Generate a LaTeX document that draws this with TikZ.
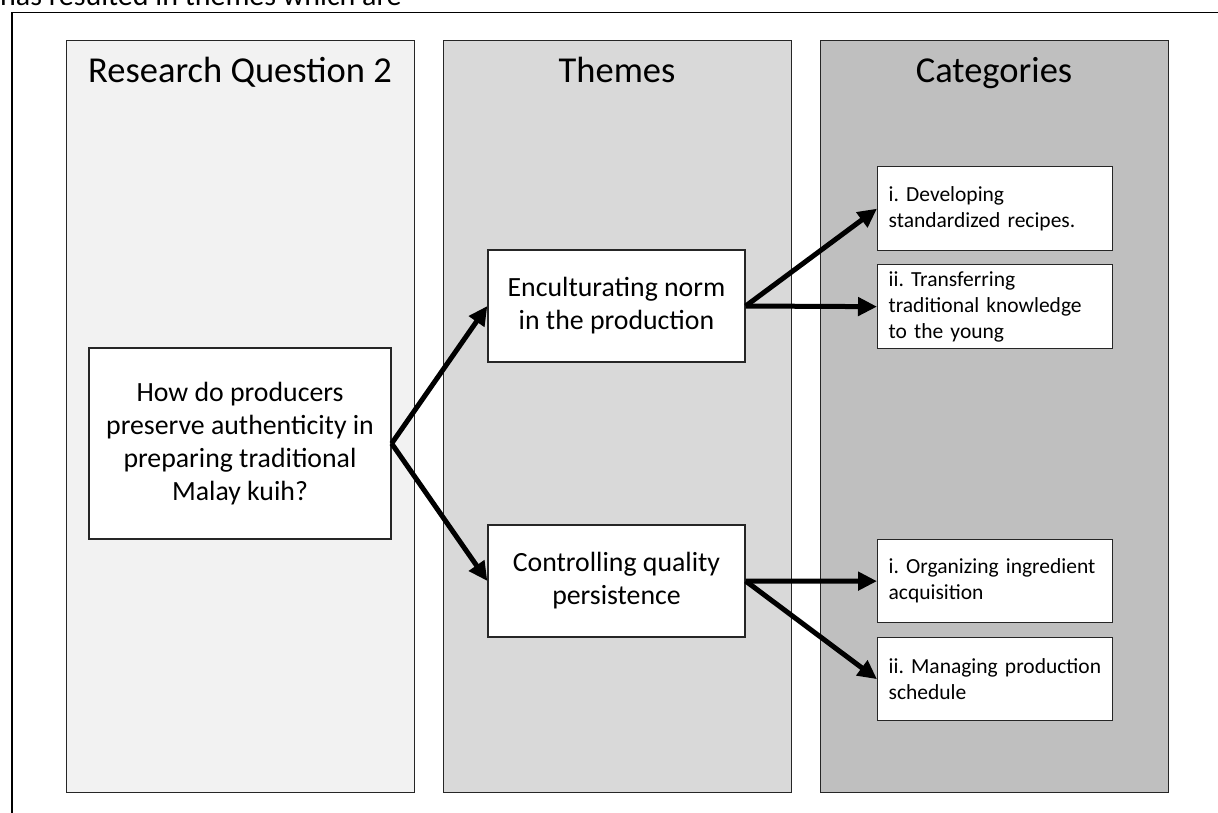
\documentclass[tikz,border=0pt]{standalone}
\usepackage{fontspec}
\setmainfont{Carlito}
\usetikzlibrary{arrows.meta}
\definecolor{pone}{HTML}{F2F2F2}
\definecolor{ptwo}{HTML}{D9D9D9}
\definecolor{pthree}{HTML}{BFBFBF}
\definecolor{edgec}{HTML}{262626}
\frenchspacing
\hyphenpenalty=10000
\exhyphenpenalty=10000
\newcommand\mycatfont{\fontsize{21.5}{26}\selectfont}
\begin{document}
\begin{tikzpicture}[x=1pt,y=-1pt,
  panel/.style={draw=edgec, line width=1.3pt, anchor=north west, inner sep=0pt, minimum width=348pt, minimum height=752pt},
  title/.style={anchor=base, inner sep=0pt, font=\fontsize{36.5}{44}\selectfont},
  box/.style={draw=edgec, line width=1.3pt, fill=white, inner sep=0pt, align=center},
  qfont/.style={font=\fontsize{27.8}{33}\selectfont},
  tfont/.style={font=\fontsize{27.8}{33}\selectfont},
  cat/.style={draw=edgec, line width=1.3pt, fill=white, anchor=north west, minimum width=235pt, text width=213pt, inner xsep=11pt, inner ysep=0pt, align=left, font=\mycatfont},
  arr/.style={line width=5pt, -{Triangle[length=19pt,width=18pt]}}]
\useasboundingbox (0,0) rectangle (1218,812);
\node[anchor=base west, inner sep=0pt, font=\fontsize{30}{36}\selectfont] (intro) at (0,5) {has resulted in themes which are};
\draw[line width=1.5pt] (12,12.5) rectangle (1230,830);
\node[panel, fill=pone] (P1) at (66,40) {};
\node[panel, fill=ptwo] (P2) at (443,40) {};
\node[panel, fill=pthree] (P3) at (820,40) {};
\node[title] (T1) at (240,82) {Research Question 2};
\node[title] (T2) at (617,82) {Themes};
\node[title] (T3) at (994,82) {Categories};
\node[box, qfont, minimum width=302pt, minimum height=191pt] (Q) at (240,443.5) {How do producers\\preserve authenticity in\\preparing traditional\\Malay kuih?};
\node[box, tfont, minimum width=257pt, minimum height=112pt] (E) at (616.5,306) {Enculturating norm\\in the production};
\node[box, tfont, minimum width=257pt, minimum height=112pt] (C) at (616.5,581) {Controlling quality\\persistence};
\node[cat, minimum height=84pt] (K1) at (877,166) {i. Developing\\standardized recipes.};
\node[cat, minimum height=84pt] (K2) at (877,264) {ii. Transferring\\traditional knowledge\\to the young};
\node[cat, minimum height=83pt] (K3) at (877,539) {i. Organizing ingredient\\acquisition};
\node[cat, minimum height=83pt] (K4) at (877,637) {ii. Managing production\\schedule};
\draw[arr] (Q.east) -- (E.west);
\draw[arr] (Q.east) -- (C.west);
\draw[arr] (E.east) -- (K1.west);
\draw[arr] (E.east) -- (K2.west);
\draw[arr] (C.east) -- (K3.west);
\draw[arr] (C.east) -- (K4.west);
\end{tikzpicture}
\end{document}
